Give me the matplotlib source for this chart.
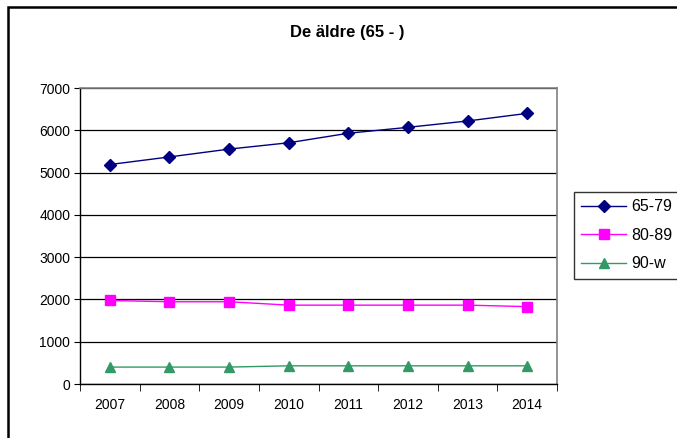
import matplotlib
matplotlib.use('Agg')
import matplotlib.pyplot as plt
from matplotlib.patches import Rectangle

plt.rcParams['font.family'] = ['Liberation Sans', 'DejaVu Sans']

years = ['2007', '2008', '2009', '2010', '2011', '2012', '2013', '2014']
age_65_79 = [5190, 5370, 5555, 5705, 5930, 6070, 6220, 6400]
age_80_89 = [1975, 1945, 1945, 1865, 1865, 1865, 1865, 1830]
age_90_w = [400, 400, 400, 430, 430, 430, 430, 430]

fig = plt.figure(figsize=(6.77, 4.38), dpi=100)
# chart border (right/bottom edges fall outside the picture)
fig.patches.append(Rectangle((8 / 677, -0.05), 1.0, 1 - 7 / 438 + 0.05,
                             transform=fig.transFigure, fill=False,
                             edgecolor='black', linewidth=1.8))

ax = fig.add_axes([80 / 677, 1 - 384 / 438, 477 / 677, 296 / 438])
x = list(range(len(years)))
ax.plot(x, age_65_79, color='#000080', marker='D', markersize=6, lw=1.0, label='65-79')
ax.plot(x, age_80_89, color='#FF00FF', marker='s', markersize=6.5, lw=1.0, label='80-89')
ax.plot(x, age_90_w, color='#339966', marker='^', markersize=7.5, lw=1.0, label='90-w')

ax.set_xlim(-0.5, 7.5)
ax.set_ylim(0, 7000)
ax.set_yticks(range(0, 7001, 1000))
ax.set_xticks(x)
ax.set_xticklabels(years)
ax.set_xticks([i - 0.5 for i in range(9)], minor=True)
ax.tick_params(axis='x', which='major', length=0, pad=10, labelsize=10)
ax.tick_params(axis='x', which='minor', length=5, direction='out', color='black')
ax.tick_params(axis='y', length=4, direction='out', labelsize=10, pad=3)
ax.yaxis.grid(True, color='black', lw=0.9)
ax.set_axisbelow(True)
for s in ['top', 'right']:
    ax.spines[s].set_color('#808080')
    ax.spines[s].set_linewidth(1.2)
for s in ['left', 'bottom']:
    ax.spines[s].set_color('black')
    ax.spines[s].set_linewidth(1.0)

fig.text(347 / 677, 1 - 32 / 438, 'De äldre (65 - )', ha='center', va='center',
         fontsize=12, fontweight='bold')

leg = fig.legend(loc='upper left', bbox_to_anchor=(574 / 677, 1 - 192 / 438),
                 frameon=True, fancybox=False, edgecolor='black', fontsize=11.5,
                 handlelength=2.8, labelspacing=0.85, borderpad=0.45,
                 handletextpad=0.35, borderaxespad=0)
leg.get_frame().set_linewidth(1.0)

fig.savefig('out.png', dpi=100)
